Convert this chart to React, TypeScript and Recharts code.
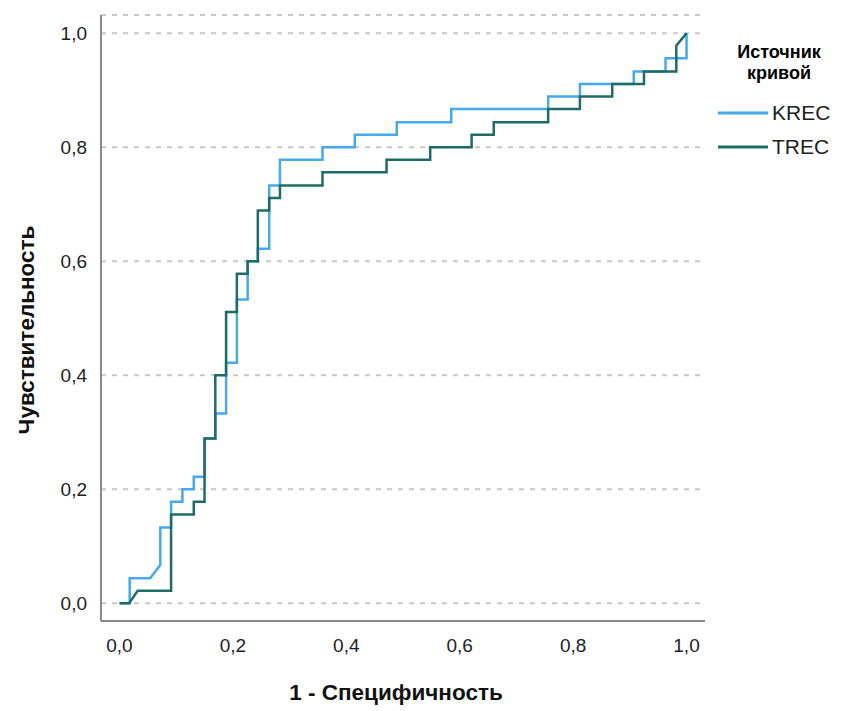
import { LineChart, Line, XAxis, YAxis, CartesianGrid, Legend } from 'recharts';

// ROC curve points (1 - specificity, sensitivity)
const krecX = [0, 0.018, 0.018, 0.054, 0.072, 0.072, 0.091, 0.091, 0.111, 0.111, 0.131, 0.131, 0.15, 0.15, 0.169, 0.169, 0.188, 0.188, 0.207, 0.207, 0.226, 0.226, 0.244, 0.244, 0.264, 0.264, 0.283, 0.283, 0.358, 0.358, 0.415, 0.415, 0.489, 0.489, 0.585, 0.585, 0.756, 0.756, 0.812, 0.812, 0.907, 0.907, 0.963, 0.963, 1, 1];
const krecY = [0, 0, 0.044, 0.044, 0.067, 0.133, 0.133, 0.178, 0.178, 0.2, 0.2, 0.222, 0.222, 0.289, 0.289, 0.333, 0.333, 0.422, 0.422, 0.533, 0.533, 0.6, 0.6, 0.622, 0.622, 0.733, 0.733, 0.778, 0.778, 0.8, 0.8, 0.822, 0.822, 0.844, 0.844, 0.867, 0.867, 0.889, 0.889, 0.911, 0.911, 0.933, 0.933, 0.956, 0.956, 1];

const trecX = [0, 0.017, 0.032, 0.091, 0.091, 0.131, 0.131, 0.15, 0.15, 0.169, 0.169, 0.188, 0.188, 0.207, 0.207, 0.226, 0.226, 0.244, 0.244, 0.264, 0.264, 0.283, 0.283, 0.358, 0.358, 0.471, 0.471, 0.548, 0.548, 0.621, 0.621, 0.66, 0.66, 0.756, 0.756, 0.812, 0.812, 0.869, 0.869, 0.925, 0.925, 0.982, 0.982, 1];
const trecY = [0, 0, 0.022, 0.022, 0.156, 0.156, 0.178, 0.178, 0.289, 0.289, 0.4, 0.4, 0.511, 0.511, 0.578, 0.578, 0.6, 0.6, 0.689, 0.689, 0.711, 0.711, 0.733, 0.733, 0.756, 0.756, 0.778, 0.778, 0.8, 0.8, 0.822, 0.822, 0.844, 0.844, 0.867, 0.867, 0.889, 0.889, 0.911, 0.911, 0.933, 0.933, 0.978, 1];

const ticks = [0, 0.2, 0.4, 0.6, 0.8, 1];
const seriesNames = ['KREC', 'TREC'];
const seriesColors = ['#45a9ef', '#1f6c66'];

const krec = krecX.map((x, i) => ({ x, y: krecY[i] }));
const trec = trecX.map((x, i) => ({ x, y: trecY[i] }));

const fmt = (v: number) => v.toFixed(1).replace('.', ',');
const font = 'Arial, "Liberation Sans", sans-serif';

const XTick = ({ x, y, payload }: any) => (
  <text x={x} y={y + 29} textAnchor="middle" fontSize={19} fill="#222" fontFamily={font}>
    {fmt(payload.value)}
  </text>
);

const YTick = ({ x, y, payload }: any) => (
  <text x={x - 12} y={y + 7} textAnchor="end" fontSize={19} fill="#222" fontFamily={font}>
    {fmt(payload.value)}
  </text>
);

const LegendBox = () => (
  <div style={{ fontFamily: font, width: 122 }}>
    <div style={{ fontWeight: 'bold', fontSize: 18, textAlign: 'center', lineHeight: '21px' }}>
      Источник
      <br />
      кривой
    </div>
    <div style={{ marginTop: 12 }}>
      {seriesNames.map((n, i) => (
        <div key={n} style={{ display: 'flex', alignItems: 'center', height: 34 }}>
          <svg width={50} height={4}>
            <line x1={0} y1={2} x2={50} y2={2} stroke={seriesColors[i]} strokeWidth={3} />
          </svg>
          <span style={{ fontSize: 21, color: '#222', marginLeft: 4 }}>{n}</span>
        </div>
      ))}
    </div>
  </div>
);

export default function App() {
  return (
    <LineChart width={832} height={703} margin={{ top: 7, right: 135, bottom: 60, left: 13 }}>
      <CartesianGrid vertical={false} stroke="#c8c8c8" strokeWidth={2} strokeDasharray="5 6" />
      <XAxis
        type="number"
        dataKey="x"
        domain={[-0.0326, 1.0326]}
        ticks={ticks}
        tick={<XTick />}
        tickLine={false}
        tickSize={0}
        height={30}
        axisLine={{ stroke: '#888', strokeWidth: 2 }}
        label={{
          content: () => (
            <text x={388} y={692} textAnchor="middle" fontSize={22.5} fontWeight="bold" fill="#111" fontFamily={font}>
              1 - Специфичность
            </text>
          ),
        }}
      />
      <YAxis
        type="number"
        dataKey="y"
        domain={[-0.031, 1.032]}
        ticks={ticks}
        tick={<YTick />}
        tickLine={false}
        tickSize={0}
        width={80}
        axisLine={{ stroke: '#888', strokeWidth: 2 }}
        label={{
          content: () => (
            <text x={26} y={322} transform="rotate(-90 26 322)" textAnchor="middle" fontSize={22.5} fontWeight="bold" fill="#111" fontFamily={font}>
              Чувствительность
            </text>
          ),
        }}
      />
      <Legend
        content={<LegendBox />}
        layout="horizontal"
        align="center"
        verticalAlign="middle"
        wrapperStyle={{ position: 'absolute', left: 710, top: 34, width: 130 }}
      />
      <Line data={krec} dataKey="y" name="KREC" type="linear" stroke={seriesColors[0]} strokeWidth={2.5} dot={false} isAnimationActive={false} />
      <Line data={trec} dataKey="y" name="TREC" type="linear" stroke={seriesColors[1]} strokeWidth={2.5} dot={false} isAnimationActive={false} />
    </LineChart>
  );
}
